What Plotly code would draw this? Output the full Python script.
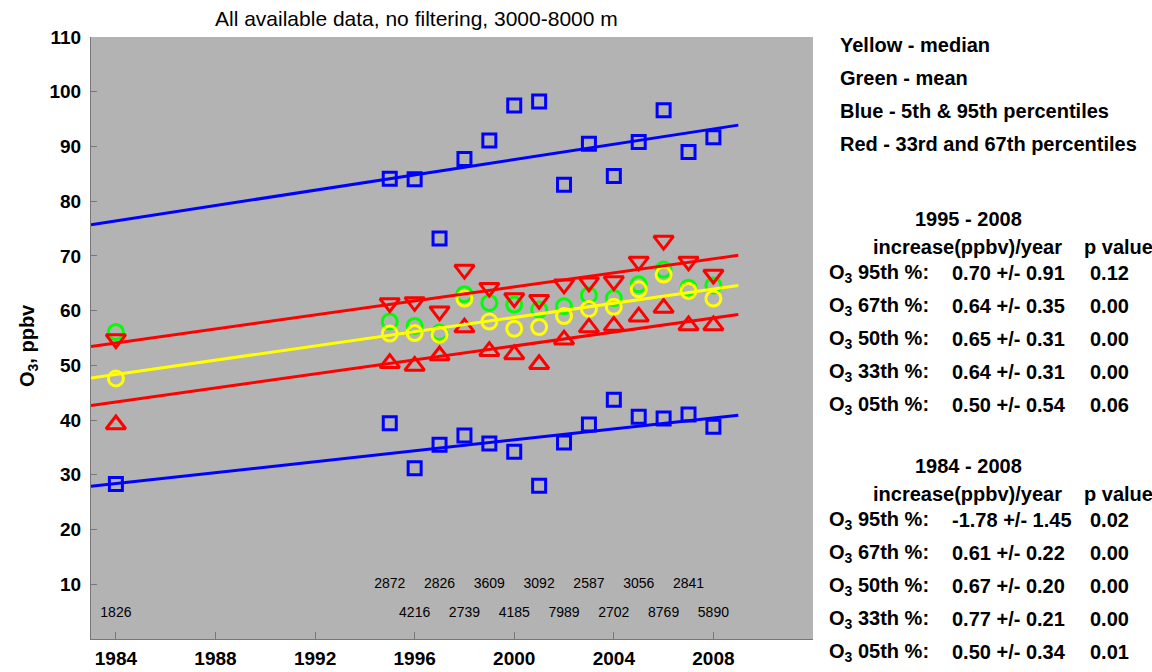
import plotly.graph_objects as go

# ---------------- data ----------------
years = [1984, 1995, 1996, 1997, 1998, 1999, 2000, 2001, 2002, 2003, 2004, 2005, 2006, 2007, 2008]
p95_years = [1995, 1996, 1997, 1998, 1999, 2000, 2001, 2002, 2003, 2004, 2005, 2006, 2007, 2008]
p95 = [84.1, 84.0, 73.2, 87.7, 91.1, 97.5, 98.2, 83.0, 90.5, 84.6, 90.8, 96.6, 89.0, 91.7]
p05 = [28.3, 39.4, 31.2, 35.5, 37.2, 35.7, 34.2, 28.0, 35.9, 39.2, 43.7, 40.6, 40.3, 41.0, 38.8]
p67 = [54.8, 61.4, 61.6, 59.9, 67.5, 64.2, 62.3, 62.0, 64.8, 65.2, 65.4, 69.0, 72.8, 69.0, 66.6]
p33 = [39.2, 50.4, 49.9, 51.8, 56.9, 52.6, 52.0, 50.2, 54.7, 56.9, 57.2, 58.9, 60.5, 57.3, 57.3]
mean_vals = [56.1, 58.0, 57.2, 56.0, 63.0, 61.4, 61.1, 60.2, 60.8, 62.8, 62.3, 64.8, 67.5, 64.2, 64.6]
median_vals = [47.6, 55.8, 55.9, 55.6, 62.2, 58.0, 56.7, 57.0, 59.0, 60.3, 60.7, 63.9, 66.6, 63.6, 62.2]

count_years_top = [1995, 1997, 1999, 2001, 2003, 2005, 2007]
count_top = ["2872", "2826", "3609", "3092", "2587", "3056", "2841"]
count_years_bottom = [1984, 1996, 1998, 2000, 2002, 2004, 2006, 2008]
count_bottom = ["1826", "4216", "2739", "4185", "7989", "2702", "8769", "5890"]

# trend lines (1995-2008 fits, drawn 1983-2009)
trend_years = [1983, 2009]
trend_names = ["p95", "p67", "p50", "p33", "p05"]
trend_slopes = [0.70, 0.64, 0.65, 0.64, 0.50]
trend_at_2009 = [93.9, 70.1, 64.6, 59.3, 40.9]
trend_colors = ["#0000ff", "#ff0000", "#ffff00", "#ff0000", "#0000ff"]

legend_lines = ["Yellow - median", "Green - mean", "Blue - 5th & 95th percentiles",
                "Red - 33rd and 67th percentiles"]
row_labels = ["95th %:", "67th %:", "50th %:", "33th %:", "05th %:"]
tab1_values = ["0.70 +/- 0.91", "0.64 +/- 0.35", "0.65 +/- 0.31", "0.64 +/- 0.31", "0.50 +/- 0.54"]
tab1_p = ["0.12", "0.00", "0.00", "0.00", "0.06"]
tab2_values = ["-1.78 +/- 1.45", "0.61 +/- 0.22", "0.67 +/- 0.20", "0.77 +/- 0.21", "0.50 +/- 0.34"]
tab2_p = ["0.02", "0.00", "0.00", "0.00", "0.01"]

# ---------------- figure ----------------
W, H = 1152, 672
L, R, T, B = 91, 339, 37, 33
PW, PH = W - L - R, H - T - B
FONT = "Liberation Sans, Arial, sans-serif"


def px(x):
    return (x - L) / PW


def py(y):
    return (H - B - y) / PH


fig = go.Figure()

mw = 3
fig.add_trace(go.Scatter(x=years, y=mean_vals, mode="markers",
                         marker=dict(symbol="circle-open", size=15, color="#00ff00", line=dict(width=mw, color="#00ff00"))))
fig.add_trace(go.Scatter(x=years, y=median_vals, mode="markers",
                         marker=dict(symbol="circle-open", size=15, color="#ffff00", line=dict(width=mw, color="#ffff00"))))
fig.add_trace(go.Scatter(x=years, y=p67, mode="markers",
                         marker=dict(symbol="triangle-down-open", size=17, color="#ff0000", line=dict(width=mw, color="#ff0000"))))
fig.add_trace(go.Scatter(x=years, y=p33, mode="markers",
                         marker=dict(symbol="triangle-up-open", size=17, color="#ff0000", line=dict(width=mw, color="#ff0000"))))
fig.add_trace(go.Scatter(x=p95_years, y=p95, mode="markers",
                         marker=dict(symbol="square-open", size=13, color="#0000ff", line=dict(width=mw, color="#0000ff"))))
fig.add_trace(go.Scatter(x=years, y=p05, mode="markers",
                         marker=dict(symbol="square-open", size=13, color="#0000ff", line=dict(width=mw, color="#0000ff"))))

for slope, end, col in zip(trend_slopes, trend_at_2009, trend_colors):
    ys = [end + slope * (yr - 2009) for yr in trend_years]
    fig.add_trace(go.Scatter(x=trend_years, y=ys, mode="lines", line=dict(color=col, width=3)))

fig.add_trace(go.Scatter(x=count_years_top, y=[10] * len(count_top), text=count_top, mode="text",
                         textfont=dict(family=FONT, size=14, color="black")))
fig.add_trace(go.Scatter(x=count_years_bottom, y=[4.6] * len(count_bottom), text=count_bottom, mode="text",
                         textfont=dict(family=FONT, size=14, color="black")))

ann = []
ann.append(dict(text="All available data, no filtering, 3000-8000 m", x=px(416.5), y=py(18),
                xanchor="center", yanchor="middle", font=dict(size=21, color="black")))
ann.append(dict(text="<b>O<sub>3</sub>, ppbv</b>", x=px(28), y=py(346), textangle=-90,
                xanchor="center", yanchor="middle", font=dict(size=20, color="black")))
for i, t in enumerate(legend_lines):
    ann.append(dict(text="<b>" + t + "</b>", x=px(838), y=py(45 + i * 33),
                    xanchor="left", yanchor="middle", font=dict(size=20, color="black")))


def table(y_title, y_header, y_rows, values, pvals, title):
    out = [dict(text="<b>" + title + "</b>", x=px(968), y=py(y_title), xanchor="center", yanchor="middle"),
           dict(text="<b>increase(ppbv)/year</b>", x=px(871), y=py(y_header), xanchor="left", yanchor="middle"),
           dict(text="<b>p value</b>", x=px(1082), y=py(y_header), xanchor="left", yanchor="middle")]
    for k in range(5):
        yy = y_rows + k * 33
        out.append(dict(text="<b>O<sub>3</sub> " + row_labels[k] + "</b>", x=px(827), y=py(yy),
                        xanchor="left", yanchor="middle"))
        out.append(dict(text="<b>" + values[k] + "</b>", x=px(950), y=py(yy), xanchor="left", yanchor="middle"))
        out.append(dict(text="<b>" + pvals[k] + "</b>", x=px(1088), y=py(yy), xanchor="left", yanchor="middle"))
    for a in out:
        a["font"] = dict(size=20, color="black")
    return out


ann += table(219, 247, 273, tab1_values, tab1_p, "1995 - 2008")
ann += table(466, 494, 520, tab2_values, tab2_p, "1984 - 2008")
for a in ann:
    a.update(xref="paper", yref="paper", showarrow=False)

fig.update_layout(
    width=W, height=H,
    margin=dict(l=L, r=R, t=T, b=B, pad=0, autoexpand=False),
    paper_bgcolor="white", plot_bgcolor="#b3b3b3",
    showlegend=False, hovermode=False,
    font=dict(family=FONT, color="black"),
    annotations=ann,
    xaxis=dict(range=[1983, 2012], tickvals=[1984, 1988, 1992, 1996, 2000, 2004, 2008],
               ticks="inside", ticklen=7, tickcolor="#777777", tickwidth=1, automargin=False,
               showline=True, linecolor="#777777", linewidth=1, showgrid=False, zeroline=False,
               tickfont=dict(family=FONT, size=19, color="black", weight="bold"), ticklabelstandoff=2),
    yaxis=dict(range=[0, 110], tickvals=list(range(10, 111, 10)),
               ticks="inside", ticklen=6, tickcolor="#777777", tickwidth=1, automargin=False,
               showline=True, linecolor="#777777", linewidth=1, showgrid=False, zeroline=False,
               tickfont=dict(family=FONT, size=19, color="black", weight="bold"), ticklabelstandoff=5),
)

fig.write_html("out.html")
